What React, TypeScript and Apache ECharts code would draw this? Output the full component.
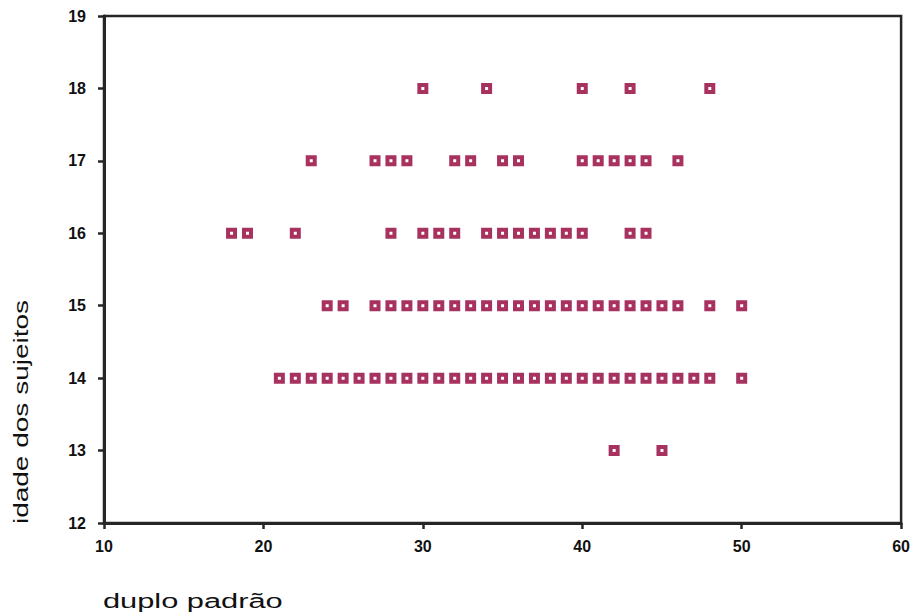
import React, { useEffect, useRef } from "react";
import * as echarts from "echarts";

// x values (duplo padrão) of the points at each age (idade dos sujeitos)
const age13: number[] = [42, 45];
const age14: number[] = [21, 22, 23, 24, 25, 26, 27, 28, 29, 30, 31, 32, 33, 34, 35, 36, 37, 38, 39, 40, 41, 42, 43, 44, 45, 46, 47, 48, 50];
const age15: number[] = [24, 25, 27, 28, 29, 30, 31, 32, 33, 34, 35, 36, 37, 38, 39, 40, 41, 42, 43, 44, 45, 46, 48, 50];
const age16: number[] = [18, 19, 22, 28, 30, 31, 32, 34, 35, 36, 37, 38, 39, 40, 43, 44];
const age17: number[] = [23, 27, 28, 29, 32, 33, 35, 36, 40, 41, 42, 43, 44, 46];
const age18: number[] = [30, 34, 40, 43, 48];

const rows: [number, number[]][] = [
  [13, age13],
  [14, age14],
  [15, age15],
  [16, age16],
  [17, age17],
  [18, age18],
];

const xTitle = "duplo padrão";
const yTitle = "idade dos sujeitos";

export default function App() {
  const ref = useRef<HTMLDivElement>(null);
  useEffect(() => {
    if (!ref.current) return;
    const chart = echarts.init(ref.current, undefined, { renderer: "svg" });
    const points: number[][] = [];
    rows.forEach(([age, xs]) => xs.forEach((x) => points.push([x, age])));
    const axisColor = "#262626";
    const labelStyle = {
      color: "#111",
      fontSize: 16,
      fontWeight: "bold" as const,
      fontFamily: "Liberation Sans, Arial, sans-serif",
    };
    chart.setOption({
      animation: false,
      backgroundColor: "#ffffff",
      grid: {
        left: 104,
        right: 9,
        top: 16,
        bottom: 91,
        show: true,
        borderColor: axisColor,
        borderWidth: 2.5,
        backgroundColor: "transparent",
      },
      xAxis: {
        type: "value",
        min: 10,
        max: 60,
        interval: 10,
        splitLine: { show: false },
        axisLine: { show: true, onZero: false, lineStyle: { color: axisColor, width: 3 } },
        axisTick: { show: true, inside: false, length: 6, lineStyle: { color: axisColor, width: 2.5 } },
        axisLabel: { ...labelStyle, margin: 15 },
      },
      yAxis: {
        type: "value",
        min: 12,
        max: 19,
        interval: 1,
        splitLine: { show: false },
        axisLine: { show: true, onZero: false, lineStyle: { color: axisColor, width: 3 } },
        axisTick: { show: true, inside: false, length: 6, lineStyle: { color: axisColor, width: 2.5 } },
        axisLabel: { ...labelStyle, margin: 18 },
      },
      series: [
        {
          type: "scatter",
          data: points,
          symbol: "path://M0,0L11,0L11,11L0,11Z M4,4L4,7L7,7L7,4Z",
          symbolSize: 11,
          itemStyle: { color: "#a8325f", opacity: 1 },
        },
      ],
      graphic: [
        {
          type: "text",
          x: 103,
          y: 611,
          scaleX: 1.54,
          style: {
            text: xTitle,
            font: "20px 'Liberation Sans', Arial, sans-serif",
            fill: "#111",
            textAlign: "left",
            textVerticalAlign: "bottom",
          },
        },
        {
          type: "text",
          x: 31,
          y: 412,
          rotation: Math.PI / 2,
          scaleX: 1.4,
          style: {
            text: yTitle,
            font: "20px 'Liberation Sans', Arial, sans-serif",
            fill: "#111",
            textAlign: "center",
            textVerticalAlign: "bottom",
          },
        },
      ],
    });
    return () => chart.dispose();
  }, []);
  return (
    <div
      ref={ref}
      style={{ position: "fixed", left: 0, top: 0, width: 913, height: 614, background: "#fff" }}
    />
  );
}
